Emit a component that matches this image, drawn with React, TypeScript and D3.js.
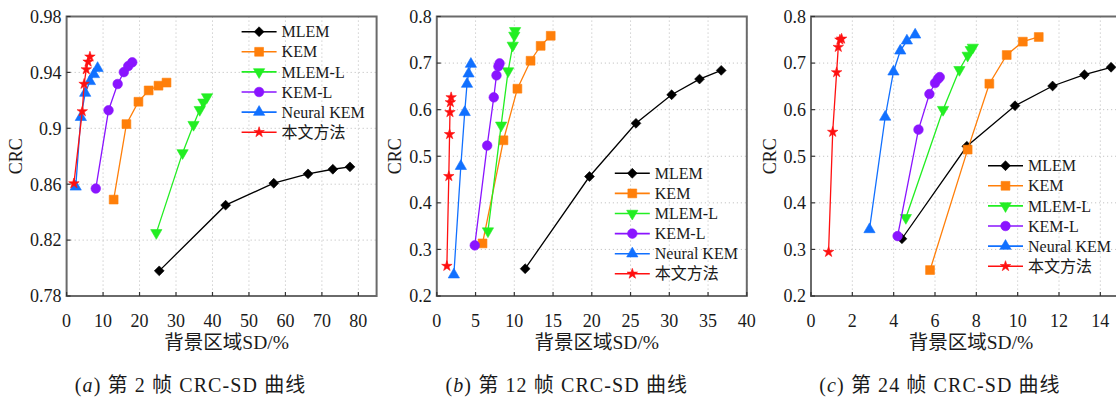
import React, { useEffect } from 'react';
import * as d3 from 'd3';

// series names / colours (legend order)
const seriesNames = ['MLEM', 'KEM', 'MLEM-L', 'KEM-L', 'Neural KEM', '本文方法'];
const seriesColors = ['#000000', '#ff7f0a', '#22ee22', '#8a14ff', '#1170ff', '#ff1010'];
const seriesSymbols = ['diamond', 'square', 'down', 'circle', 'up', 'star'];

// (a) frame 2 : [SD %, CRC]
const aMLEM = [[25.4, 0.798], [43.6, 0.845], [56.8, 0.8607], [66.2, 0.8674], [73.0, 0.8707], [77.7, 0.8724]];
const aKEM = [[12.9, 0.849], [16.4, 0.903], [19.7, 0.919], [22.5, 0.9271], [25.2, 0.9305], [27.4, 0.9327]];
const aMLEML = [[24.6, 0.8252], [31.8, 0.8824], [34.8, 0.9026], [36.5, 0.9133], [37.5, 0.9186], [38.5, 0.9224]];
const aKEML = [[8.0, 0.8569], [11.5, 0.9129], [14.0, 0.9317], [15.7, 0.9402], [16.9, 0.9445], [18.0, 0.9472]];
const aNKEM = [[2.5, 0.8581], [3.9, 0.9079], [5.1, 0.9252], [6.4, 0.9336], [7.5, 0.9386], [8.5, 0.943]];
const aOurs = [[2.0, 0.8605], [4.3, 0.9121], [4.8, 0.9317], [5.4, 0.9421], [5.9, 0.9476], [6.4, 0.9512]];

// (b) frame 12
const bMLEM = [[11.4, 0.2586], [19.7, 0.4565], [25.7, 0.5707], [30.3, 0.632], [33.9, 0.6657], [36.7, 0.6843]];
const bKEM = [[5.9, 0.3129], [8.6, 0.5343], [10.4, 0.645], [12.1, 0.705], [13.4, 0.737], [14.7, 0.7586]];
const bMLEML = [[6.6, 0.3393], [8.3, 0.5664], [9.2, 0.6829], [9.8, 0.7379], [10.0, 0.7593], [10.1, 0.7693]];
const bKEML = [[4.9, 0.3086], [6.5, 0.5229], [7.35, 0.6264], [7.7, 0.6736], [7.95, 0.6929], [8.1, 0.6993]];
const bNKEM = [[2.2, 0.2457], [3.1, 0.4786], [3.6, 0.5943], [3.9, 0.655], [4.1, 0.6771], [4.4, 0.6979]];
const bOurs = [[1.3, 0.2643], [1.55, 0.4571], [1.65, 0.5471], [1.7, 0.5943], [1.75, 0.6157], [1.85, 0.6264]];

// (c) frame 24
const cMLEM = [[4.4, 0.3229], [7.54, 0.5214], [9.87, 0.6085], [11.69, 0.6508], [13.23, 0.675], [14.52, 0.691]];
const cKEM = [[5.76, 0.2557], [7.58, 0.5143], [8.63, 0.6557], [9.47, 0.7173], [10.25, 0.746], [11.02, 0.756]];
const cMLEML = [[4.59, 0.3679], [6.39, 0.6], [7.18, 0.6857], [7.58, 0.7164], [7.73, 0.7286], [7.83, 0.7336]];
const cKEML = [[4.19, 0.3286], [5.2, 0.5571], [5.73, 0.6336], [6.0, 0.6571], [6.14, 0.6657], [6.23, 0.67]];
const cNKEM = [[2.83, 0.3429], [3.59, 0.5843], [3.99, 0.6814], [4.32, 0.7264], [4.64, 0.7479], [5.04, 0.7607]];
const cOurs = [[0.85, 0.2943], [1.05, 0.5521], [1.24, 0.68], [1.32, 0.7343], [1.4, 0.75], [1.48, 0.7521]];

// axis ticks
const aXTicks = [0, 10, 20, 30, 40, 50, 60, 70, 80];
const aYTicks = [0.78, 0.82, 0.86, 0.9, 0.94, 0.98];
const bXTicks = [0, 5, 10, 15, 20, 25, 30, 35, 40];
const bcYTicks = [0.2, 0.3, 0.4, 0.5, 0.6, 0.7, 0.8];
const cXTicks = [0, 2, 4, 6, 8, 10, 12, 14];

const xLabel = '背景区域SD/%';
const yLabel = 'CRC';

const W = 1116;
const H = 401;
const TOP = 16.5;
const BOTTOM = 296;
const PW = 310;
const SERIF = 'Liberation Serif, DejaVu Serif, Noto Sans CJK SC, serif';

const symbolPath = (kind: string) => {
  if (kind === 'diamond') return d3.symbol(d3.symbolDiamond2, 62)() as string;
  if (kind === 'square') return d3.symbol(d3.symbolSquare, 78)() as string;
  if (kind === 'circle') return d3.symbol(d3.symbolCircle, 72)() as string;
  if (kind === 'star') return d3.symbol(d3.symbolStar, 34)() as string;
  return d3.symbol(d3.symbolTriangle, 55)() as string;
};

const Marker = ({ kind, x, y, color }: { kind: string; x: number; y: number; color: string }) => (
  <path
    d={symbolPath(kind)}
    transform={`translate(${x},${y})${kind === 'down' ? ' rotate(180)' : ''}`}
    fill={color}
    stroke={color}
    strokeWidth={0.6}
  />
);

type PanelProps = {
  left: number;
  series: number[][][];
  xDomain: [number, number];
  xTicks: number[];
  yDomain: [number, number];
  yTicks: number[];
  legendX: number;
  legendY: number;
  yLabelDx: number;
  tag: string;
  frame: string;
  captionDx: number;
};

const Panel = (p: PanelProps) => {
  const x = d3.scaleLinear().domain(p.xDomain).range([0, PW]);
  const y = d3.scaleLinear().domain(p.yDomain).range([BOTTOM - TOP, 0]);
  const h = BOTTOM - TOP;
  const line = d3.line<number[]>().x((d) => x(d[0])).y((d) => y(d[1]));
  const fmt = (v: number) => String(+v.toFixed(2));

  return (
    <g transform={`translate(${p.left},${TOP})`} style={{ fontFamily: SERIF }}>
      {/* grid */}
      {p.xTicks.filter((t) => t > p.xDomain[0]).map((t) => (
        <line key={'gx' + t} x1={x(t)} x2={x(t)} y1={0} y2={h} stroke="#c4c4c4" strokeDasharray="1.2,2.8" />
      ))}
      {p.yTicks.filter((t) => t > p.yDomain[0] && t < p.yDomain[1]).map((t) => (
        <line key={'gy' + t} x1={0} x2={PW} y1={y(t)} y2={y(t)} stroke="#c4c4c4" strokeDasharray="1.2,2.8" />
      ))}

      {/* series */}
      {p.series.map((s, i) => (
        <g key={'s' + i}>
          <path d={line(s) as string} fill="none" stroke={seriesColors[i]} strokeWidth={1.3} />
          {s.map((d, j) => (
            <Marker key={j} kind={seriesSymbols[i]} x={x(d[0])} y={y(d[1])} color={seriesColors[i]} />
          ))}
        </g>
      ))}

      {/* frame and ticks */}
      <rect x={0} y={0} width={PW} height={h} fill="none" stroke="#6a6a6a" strokeWidth={2} />
      {p.xTicks.map((t) => (
        <g key={'tx' + t}>
          <line x1={x(t)} x2={x(t)} y1={h} y2={h - 4} stroke="#333" strokeWidth={1.2} />
          <text x={x(t)} y={h + 31} textAnchor="middle" fontSize={18} fill="#1a1a1a">{t}</text>
        </g>
      ))}
      {p.yTicks.map((t) => (
        <g key={'ty' + t}>
          <line x1={0} x2={4} y1={y(t)} y2={y(t)} stroke="#333" strokeWidth={1.2} />
          <text x={-5} y={y(t)} dy="0.35em" textAnchor="end" fontSize={18} fill="#1a1a1a">{fmt(t)}</text>
        </g>
      ))}

      {/* axis labels */}
      <text transform={`translate(${p.yLabelDx},${h / 2}) rotate(-90)`} dy="0.35em" textAnchor="middle" fontSize={18} fill="#1a1a1a">{yLabel}</text>
      <text x={PW / 2 + 5} y={h + 53} textAnchor="middle" fontSize={19.5} fill="#1a1a1a">{xLabel}</text>

      {/* caption */}
      <text x={p.captionDx} y={h + 96} textAnchor="middle" fontSize={20} letterSpacing={1.1} fill="#1a1a1a">
        (<tspan fontStyle="italic">{p.tag}</tspan>) {p.frame}
      </text>

      {/* legend */}
      {seriesNames.map((n, i) => {
        const ly = p.legendY + i * 20.1;
        return (
          <g key={'lg' + i}>
            <line x1={p.legendX} x2={p.legendX + 35} y1={ly} y2={ly} stroke={seriesColors[i]} strokeWidth={1.6} />
            <Marker kind={seriesSymbols[i]} x={p.legendX + 17.5} y={ly} color={seriesColors[i]} />
            <text x={p.legendX + 40} y={ly} dy="0.35em" fontSize={16} fill="#1a1a1a">{n}</text>
          </g>
        );
      })}
    </g>
  );
};

const App = () => {
  useEffect(() => {
    document.body.style.margin = '0';
    document.body.style.overflow = 'hidden';
  }, []);

  return (
    <svg width={W} height={H} style={{ display: 'block', background: '#fff' }}>
      <Panel
        left={66.6}
        series={[aMLEM, aKEM, aMLEML, aKEML, aNKEM, aOurs]}
        xDomain={[0, 85]}
        xTicks={aXTicks}
        yDomain={[0.78, 0.98]}
        yTicks={aYTicks}
        legendX={175}
        legendY={15.2}
        yLabelDx={-51}
        tag="a"
        frame="第 2 帧 CRC-SD 曲线"
        captionDx={124}
      />
      <Panel
        left={436.8}
        series={[bMLEM, bKEM, bMLEML, bKEML, bNKEM, bOurs]}
        xDomain={[0, 40]}
        xTicks={bXTicks}
        yDomain={[0.2, 0.8]}
        yTicks={bcYTicks}
        legendX={178}
        legendY={156.8}
        yLabelDx={-42}
        tag="b"
        frame="第 12 帧 CRC-SD 曲线"
        captionDx={130}
      />
      <Panel
        left={811}
        series={[cMLEM, cKEM, cMLEML, cKEML, cNKEM, cOurs]}
        xDomain={[0, 15]}
        xTicks={cXTicks}
        yDomain={[0.2, 0.8]}
        yTicks={bcYTicks}
        legendX={177}
        legendY={149.2}
        yLabelDx={-41}
        tag="c"
        frame="第 24 帧 CRC-SD 曲线"
        captionDx={129}
      />
    </svg>
  );
};

export default App;
